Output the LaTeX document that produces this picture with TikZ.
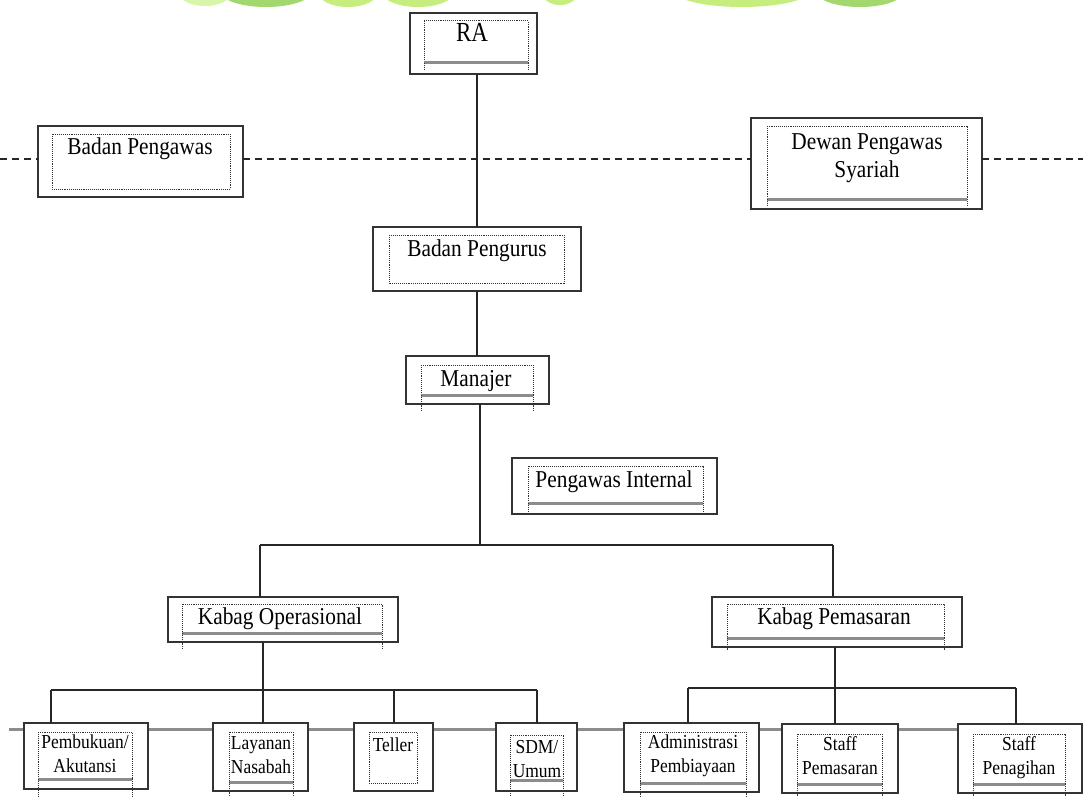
\documentclass[tikz,border=0pt]{standalone}
\usepackage{fontspec}
\setmainfont{Liberation Serif}
\definecolor{wmA}{HTML}{C6EE7E}
\definecolor{wmB}{HTML}{A2D86E}
\definecolor{wmC}{HTML}{D8F5A8}
\newcommand\obox[5]{%
  \pgfmathsetmacro\bw{#4-#2}\pgfmathsetmacro\bh{#5-#3}%
  \node[outer, minimum width=\bw pt, minimum height=\bh pt] (#1) at ({(#2+#4)/2},{(#3+#5)/2}) {};}
\newcommand\iboxh[5]{%
  \draw[dotbox] (#1,#2) rectangle (#3,#4);
  \draw[hatch] (#1,#4) -- (#3,#4);
  \draw[dotbox] (#1,#4) -- (#1,#5) (#3,#4) -- (#3,#5);}
\newcommand\iboxp[4]{\draw[dotbox] (#1,#2) rectangle (#3,#4);}
\newcommand\tall[1]{\scalebox{0.97}[1.1]{#1}}
\begin{document}
\begin{tikzpicture}[x=1pt,y=-1pt,
  outer/.style={draw=black!80, line width=1.5pt, fill=white, inner sep=0pt, outer sep=0pt},
  dotbox/.style={draw=black!80, line width=1pt, dash pattern=on 1pt off 0.9pt},
  hatch/.style={draw=black!45, line width=3pt},
  conn/.style={draw=black!85, line width=1.4pt},
  sepline/.style={draw=black!85, line width=1.3pt, dash pattern=on 7pt off 5pt},
  big/.style={font=\fontsize{22}{24}\selectfont, inner sep=0pt, anchor=base, text=black},
  small/.style={font=\fontsize{18}{20}\selectfont, inner sep=0pt, anchor=base, text=black},
]
\useasboundingbox (0,0) rectangle (1083,797);
\fill[white] (0,0) rectangle (1083,797);

% watermark remnant at the top edge
\begin{scope}
  \clip (0,0) rectangle (1083,7);
  \fill[wmC] (205,-6) ellipse [x radius=25pt, y radius=12pt];
  \fill[wmB] (266,-8) ellipse [x radius=45pt, y radius=15pt];
  \fill[wmA] (348,-8) ellipse [x radius=30pt, y radius=15pt];
  \fill[wmA] (418,-8) ellipse [x radius=36pt, y radius=15pt];
  \fill[wmA] (560,-8) ellipse [x radius=18pt, y radius=13pt];
  \fill[wmA] (742,-8) ellipse [x radius=66pt, y radius=15pt];
  \fill[wmB] (860,-8) ellipse [x radius=43pt, y radius=15pt];
\end{scope}

% grey hatched band behind the bottom row
\draw[hatch] (9,729) -- (1083,729);

% outer boxes
\obox{ra}{410}{13}{537}{74}
\obox{bpw}{38}{126}{243}{197}
\obox{dps}{751}{118}{982}{209}
\obox{bpg}{373}{227}{581}{291}
\obox{man}{406}{356}{549}{404}
\obox{pi}{512}{458}{717}{514}
\obox{kop}{168}{597}{398}{642}
\obox{kpm}{712}{597}{962}{647}
\obox{pbk}{24}{723}{148}{789}
\obox{lyn}{213}{723}{308}{791}
\obox{tel}{354}{723}{433}{791}
\obox{sdm}{496}{723}{577}{791}
\obox{adm}{624}{723}{759}{792}
\obox{spm}{782}{724}{898}{793}
\obox{spn}{958}{724}{1082}{793}

% dashed separator through the two supervisory boxes
\coordinate (dl) at (0,159);
\coordinate (dr) at (1083,159);
\draw[sepline] (dl) -- (dl -| bpw.west);
\draw[sepline] (bpw.east |- dl) -- (dps.west |- dl);
\draw[sepline] (dps.east |- dl) -- (dr);

% connectors
\draw[conn] (bpg.north) -- (bpg.north |- ra.south);
\draw[conn] (bpg.south) -- (bpg.south |- man.north);
\coordinate (bus1) at (480,545);
\coordinate (bus1l) at (260,545);
\coordinate (bus1r) at (833,545);
\draw[conn] (man.south -| bus1) -- (bus1);
\draw[conn] (bus1l) -- (bus1r);
\draw[conn] (bus1l) -- (bus1l |- kop.north);
\draw[conn] (bus1r) -- (bus1r |- kpm.north);

\coordinate (bus2c) at (263,690);
\coordinate (bus2l) at (51,690);
\coordinate (bus2t) at (394,690);
\coordinate (bus2r) at (537,690);
\draw[conn] (kop.south -| bus2c) -- (bus2c);
\draw[conn] (bus2l) -- (bus2r);
\draw[conn] (bus2l) -- (bus2l |- pbk.north);
\draw[conn] (bus2c) -- (bus2c |- lyn.north);
\draw[conn] (bus2t) -- (bus2t |- tel.north);
\draw[conn] (bus2r) -- (bus2r |- sdm.north);

\coordinate (bus3c) at (835,688);
\coordinate (bus3l) at (688,688);
\coordinate (bus3r) at (1016,688);
\draw[conn] (kpm.south -| bus3c) -- (bus3c);
\draw[conn] (bus3l) -- (bus3r);
\draw[conn] (bus3l) -- (bus3l |- adm.north);
\draw[conn] (bus3c) -- (bus3c |- spm.north);
\draw[conn] (bus3r) -- (bus3r |- spn.north);

% inner dotted frames
\iboxh{424}{21}{528}{63}{69}
\iboxp{52}{134}{230}{189}
\iboxh{767}{126}{967}{199}{205}
\iboxp{389}{235}{564}{283}
\iboxh{421}{365}{533}{395}{412}
\iboxh{528}{466}{703}{503}{513}
\iboxh{182}{604}{382}{633}{650}
\iboxh{727}{604}{944}{638}{650}
\iboxh{38}{732}{132}{779}{797}
\iboxh{229}{732}{293}{782}{797}
\iboxp{369}{732}{417}{783}
\iboxh{510}{735}{563}{780}{797}
\iboxh{640}{732}{746}{783}{797}
\iboxh{797}{734}{882}{784}{797}
\iboxh{973}{734}{1065}{784}{797}

% texts
\node[big, font=\fontsize{23}{25}\selectfont] (t-ra) at (472,42) {\scalebox{1}[1.2]{RA}};
\node[big] (t-bpw) at (140,154) {\tall{Badan Pengawas}};
\node[big] (t-dps1) at (867,149) {\tall{Dewan Pengawas}};
\node[big] (t-dps2) at (867,177) {\tall{Syariah}};
\node[big] (t-bpg) at (477,256) {\tall{Badan Pengurus}};
\node[big] (t-man) at (476,386) {\tall{Manajer}};
\node[big] (t-pi) at (614,487) {\tall{Pengawas Internal}};
\node[big] (t-kop) at (280,624) {\tall{Kabag Operasional}};
\node[big] (t-kpm) at (834,624) {\tall{Kabag Pemasaran}};

\node[small] (t-pbk1) at (85,748) {\tall{Pembukuan/}};
\node[small] (t-pbk2) at (85,772) {\tall{Akutansi}};
\node[small] (t-lyn1) at (261,749) {\tall{Layanan}};
\node[small] (t-lyn2) at (261,773) {\tall{Nasabah}};
\node[small] (t-tel) at (393,751) {\tall{Teller}};
\node[small] (t-sdm1) at (537,753) {\tall{SDM/}};
\node[small] (t-sdm2) at (537,777) {\tall{Umum}};
\node[small] (t-adm1) at (693,748) {\tall{Administrasi}};
\node[small] (t-adm2) at (693,772) {\tall{Pembiayaan}};
\node[small] (t-spm1) at (840,750) {\tall{Staff}};
\node[small] (t-spm2) at (840,774) {\tall{Pemasaran}};
\node[small] (t-spn1) at (1019,750) {\tall{Staff}};
\node[small] (t-spn2) at (1019,774) {\tall{Penagihan}};
\end{tikzpicture}
\end{document}
